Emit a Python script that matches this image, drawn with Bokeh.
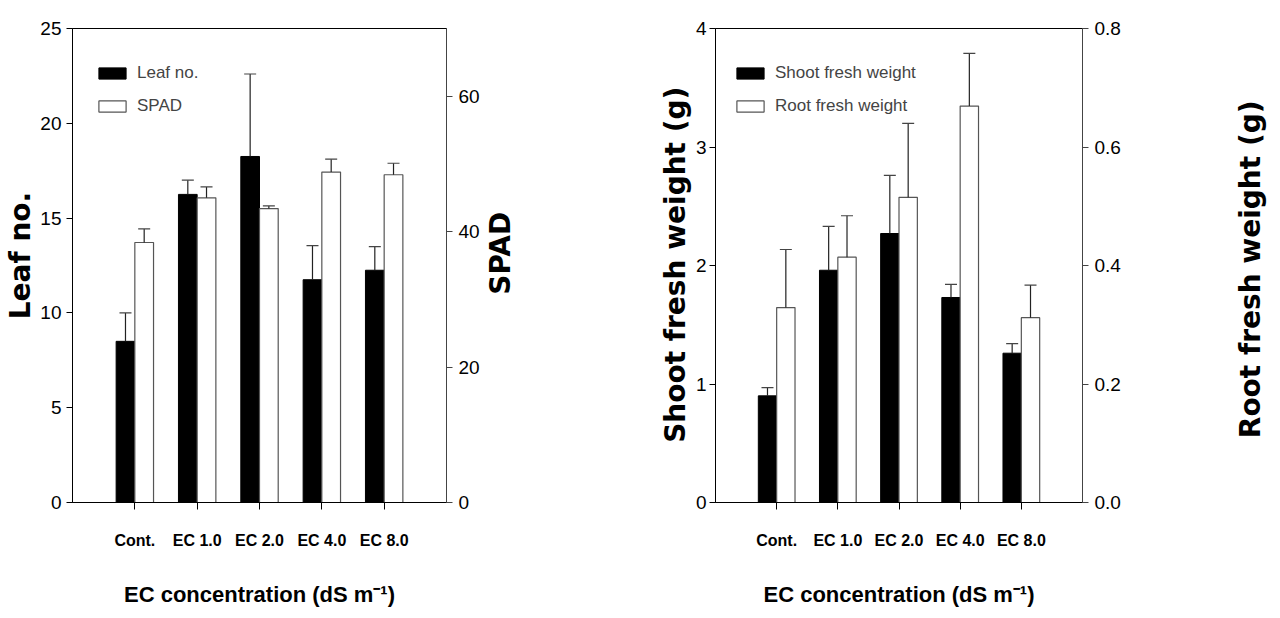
import math
from bokeh.plotting import figure
from bokeh.models import (Range1d, LinearAxis, FixedTicker, Whisker, TeeHead,
                          ColumnDataSource, Legend, LegendItem)
from bokeh.core.properties import value
from bokeh.layouts import row
from bokeh.embed import file_html
from bokeh.resources import INLINE
import numpy as np

# Treatments along the x axis
categories = ["Cont.", "EC 1.0", "EC 2.0", "EC 4.0", "EC 8.0"]

# Panel A: leaf number (left axis) and SPAD (right axis), mean and error
leaf_no = [8.5, 16.25, 18.25, 11.75, 12.25]
leaf_no_err = [1.5, 0.75, 4.35, 1.8, 1.25]
spad = [38.4, 45.0, 43.4, 48.8, 48.4]
spad_err = [2.0, 1.6, 0.4, 1.9, 1.7]

# Panel B: shoot fresh weight (left axis) and root fresh weight (right axis), g
shoot_fw = [0.90, 1.96, 2.27, 1.73, 1.26]
shoot_fw_err = [0.07, 0.37, 0.49, 0.11, 0.08]
root_fw = [0.329, 0.414, 0.515, 0.669, 0.312]
root_fw_err = [0.098, 0.070, 0.125, 0.089, 0.055]

NARROW = "Liberation Sans"
WIDE_BOLD = "DejaVu Sans"
BAR_W = 0.3
H = 618


def title_strip(width, texts):
    """Narrow axis-free figure holding vertical titles that read bottom to top."""
    t = figure(width=width, height=H, x_range=Range1d(0, width),
               y_range=Range1d(0, H), output_backend="svg",
               toolbar_location=None, min_border=0,
               x_axis_location=None, y_axis_location=None)
    t.grid.visible = False
    t.outline_line_color = None
    t.border_fill_color = "white"
    for text, x, y_top in texts:
        t.text(x=[x], y=[H - y_top], text=[text], angle=math.pi / 2,
               text_align="center", text_baseline="middle",
               text_font=value(WIDE_BOLD), text_font_style="bold",
               text_font_size="28px", text_color="black")
    return t


def style_y_axis(ax, ticks, overrides=None):
    ax.ticker = FixedTicker(ticks=ticks)
    if overrides:
        ax.major_label_overrides = overrides
    ax.major_label_text_font = NARROW
    ax.major_label_text_font_size = "19px"
    ax.major_label_text_color = "black"
    ax.major_tick_in = 0
    ax.major_tick_out = 6
    ax.minor_tick_line_color = None
    ax.axis_line_color = "black"
    ax.major_tick_line_color = "black"


def make_panel(left_vals, left_err, right_vals, right_err, left_max, right_max,
               left_ticks, right_ticks, legend_labels, width, borders,
               legend_xy, left_standoff, right_overrides=None):
    bl, br, bt, bb = borders
    p = figure(width=width, height=H, x_range=Range1d(0, 6),
               y_range=Range1d(0, left_max), output_backend="svg",
               toolbar_location=None, min_border_left=bl, min_border_right=br,
               min_border_top=bt, min_border_bottom=bb)
    p.extra_y_ranges = {"right": Range1d(0, right_max)}
    p.xgrid.visible = False
    p.ygrid.visible = False
    p.outline_line_color = "black"
    p.outline_line_width = 1
    p.background_fill_color = "white"
    p.border_fill_color = "white"

    pos = np.arange(1, len(categories) + 1)
    left_src = ColumnDataSource(dict(
        x=pos - BAR_W / 2, top=left_vals,
        upper=np.array(left_vals) + np.array(left_err)))
    right_src = ColumnDataSource(dict(
        x=pos + BAR_W / 2, top=right_vals,
        upper=np.array(right_vals) + np.array(right_err)))

    r_left = p.vbar(x="x", top="top", width=BAR_W, bottom=0, source=left_src,
                    fill_color="black", line_color="black")
    r_right = p.vbar(x="x", top="top", width=BAR_W, bottom=0, source=right_src,
                     fill_color="white", line_color="#555555", line_width=1.2,
                     y_range_name="right")

    for src, rng in ((left_src, "default"), (right_src, "right")):
        w = Whisker(source=src, base="x", lower="top", upper="upper",
                    dimension="height", line_color="#222222", line_width=1.2,
                    upper_head=TeeHead(size=12, line_color="#444444", line_width=1.2),
                    lower_head=None, y_range_name=rng, level="glyph")
        p.add_layout(w)

    # bottom axis with treatment names
    xa = p.xaxis[0]
    xa.ticker = FixedTicker(ticks=list(pos))
    xa.major_label_overrides = {int(i): c for i, c in zip(pos, categories)}
    xa.major_label_text_font = NARROW
    xa.major_label_text_font_style = "bold"
    xa.major_label_text_font_size = "16px"
    xa.major_label_text_color = "black"
    xa.major_label_standoff = 22
    xa.major_tick_in = 0
    xa.major_tick_out = 7
    xa.minor_tick_line_color = None
    xa.axis_line_color = "black"
    xa.axis_label = "EC concentration (dS m\u207b\u00b9)"
    xa.axis_label_text_font = NARROW
    xa.axis_label_text_font_style = "bold"
    xa.axis_label_text_font_size = "22px"
    xa.axis_label_text_color = "black"
    xa.axis_label_standoff = 30

    ya = p.yaxis[0]
    style_y_axis(ya, left_ticks)
    ya.major_label_standoff = left_standoff

    ra = LinearAxis(y_range_name="right")
    style_y_axis(ra, right_ticks, right_overrides)
    ra.major_label_standoff = 6
    ra.axis_line_color = "#444444"
    ra.major_tick_line_color = "#444444"
    p.add_layout(ra, "right")

    legend = Legend(items=[LegendItem(label=legend_labels[0], renderers=[r_left]),
                           LegendItem(label=legend_labels[1], renderers=[r_right])],
                    location=legend_xy, glyph_width=34, glyph_height=14,
                    label_text_font=NARROW, label_text_font_size="17px",
                    label_height=14, label_standoff=8, spacing=13, padding=0,
                    margin=0, border_line_color=None, background_fill_alpha=0)
    p.add_layout(legend)
    return p


t_leaf = title_strip(37, [("Leaf no.", 20, 296)])
p1 = make_panel(leaf_no, leaf_no_err, spad, spad_err, 25, 70,
                [0, 5, 10, 15, 20, 25], [0, 20, 40, 60],
                ["Leaf no.", "SPAD"], 445, (33, 36, 22, 116), (23, 386), 5)
t_mid = title_strip(210, [("SPAD", 18, 293),
                          ("Shoot fresh weight (g)", 193, 308)])
p2 = make_panel(shoot_fw, shoot_fw_err, root_fw, root_fw_err, 4, 0.8,
                [0, 1, 2, 3, 4], [0, 0.2, 0.4, 0.6, 0.8],
                ["Shoot fresh weight", "Root fresh weight"], 540,
                (19, 150, 28, 116), (18, 386), 3,
                right_overrides={0: "0.0", 0.2: "0.2", 0.4: "0.4",
                                 0.6: "0.6", 0.8: "0.8"})
t_root = title_strip(48, [("Root fresh weight (g)", 18, 314)])

layout = row(t_leaf, p1, t_mid, p2, t_root)
open("out.html", "w").write(file_html(layout, INLINE))
